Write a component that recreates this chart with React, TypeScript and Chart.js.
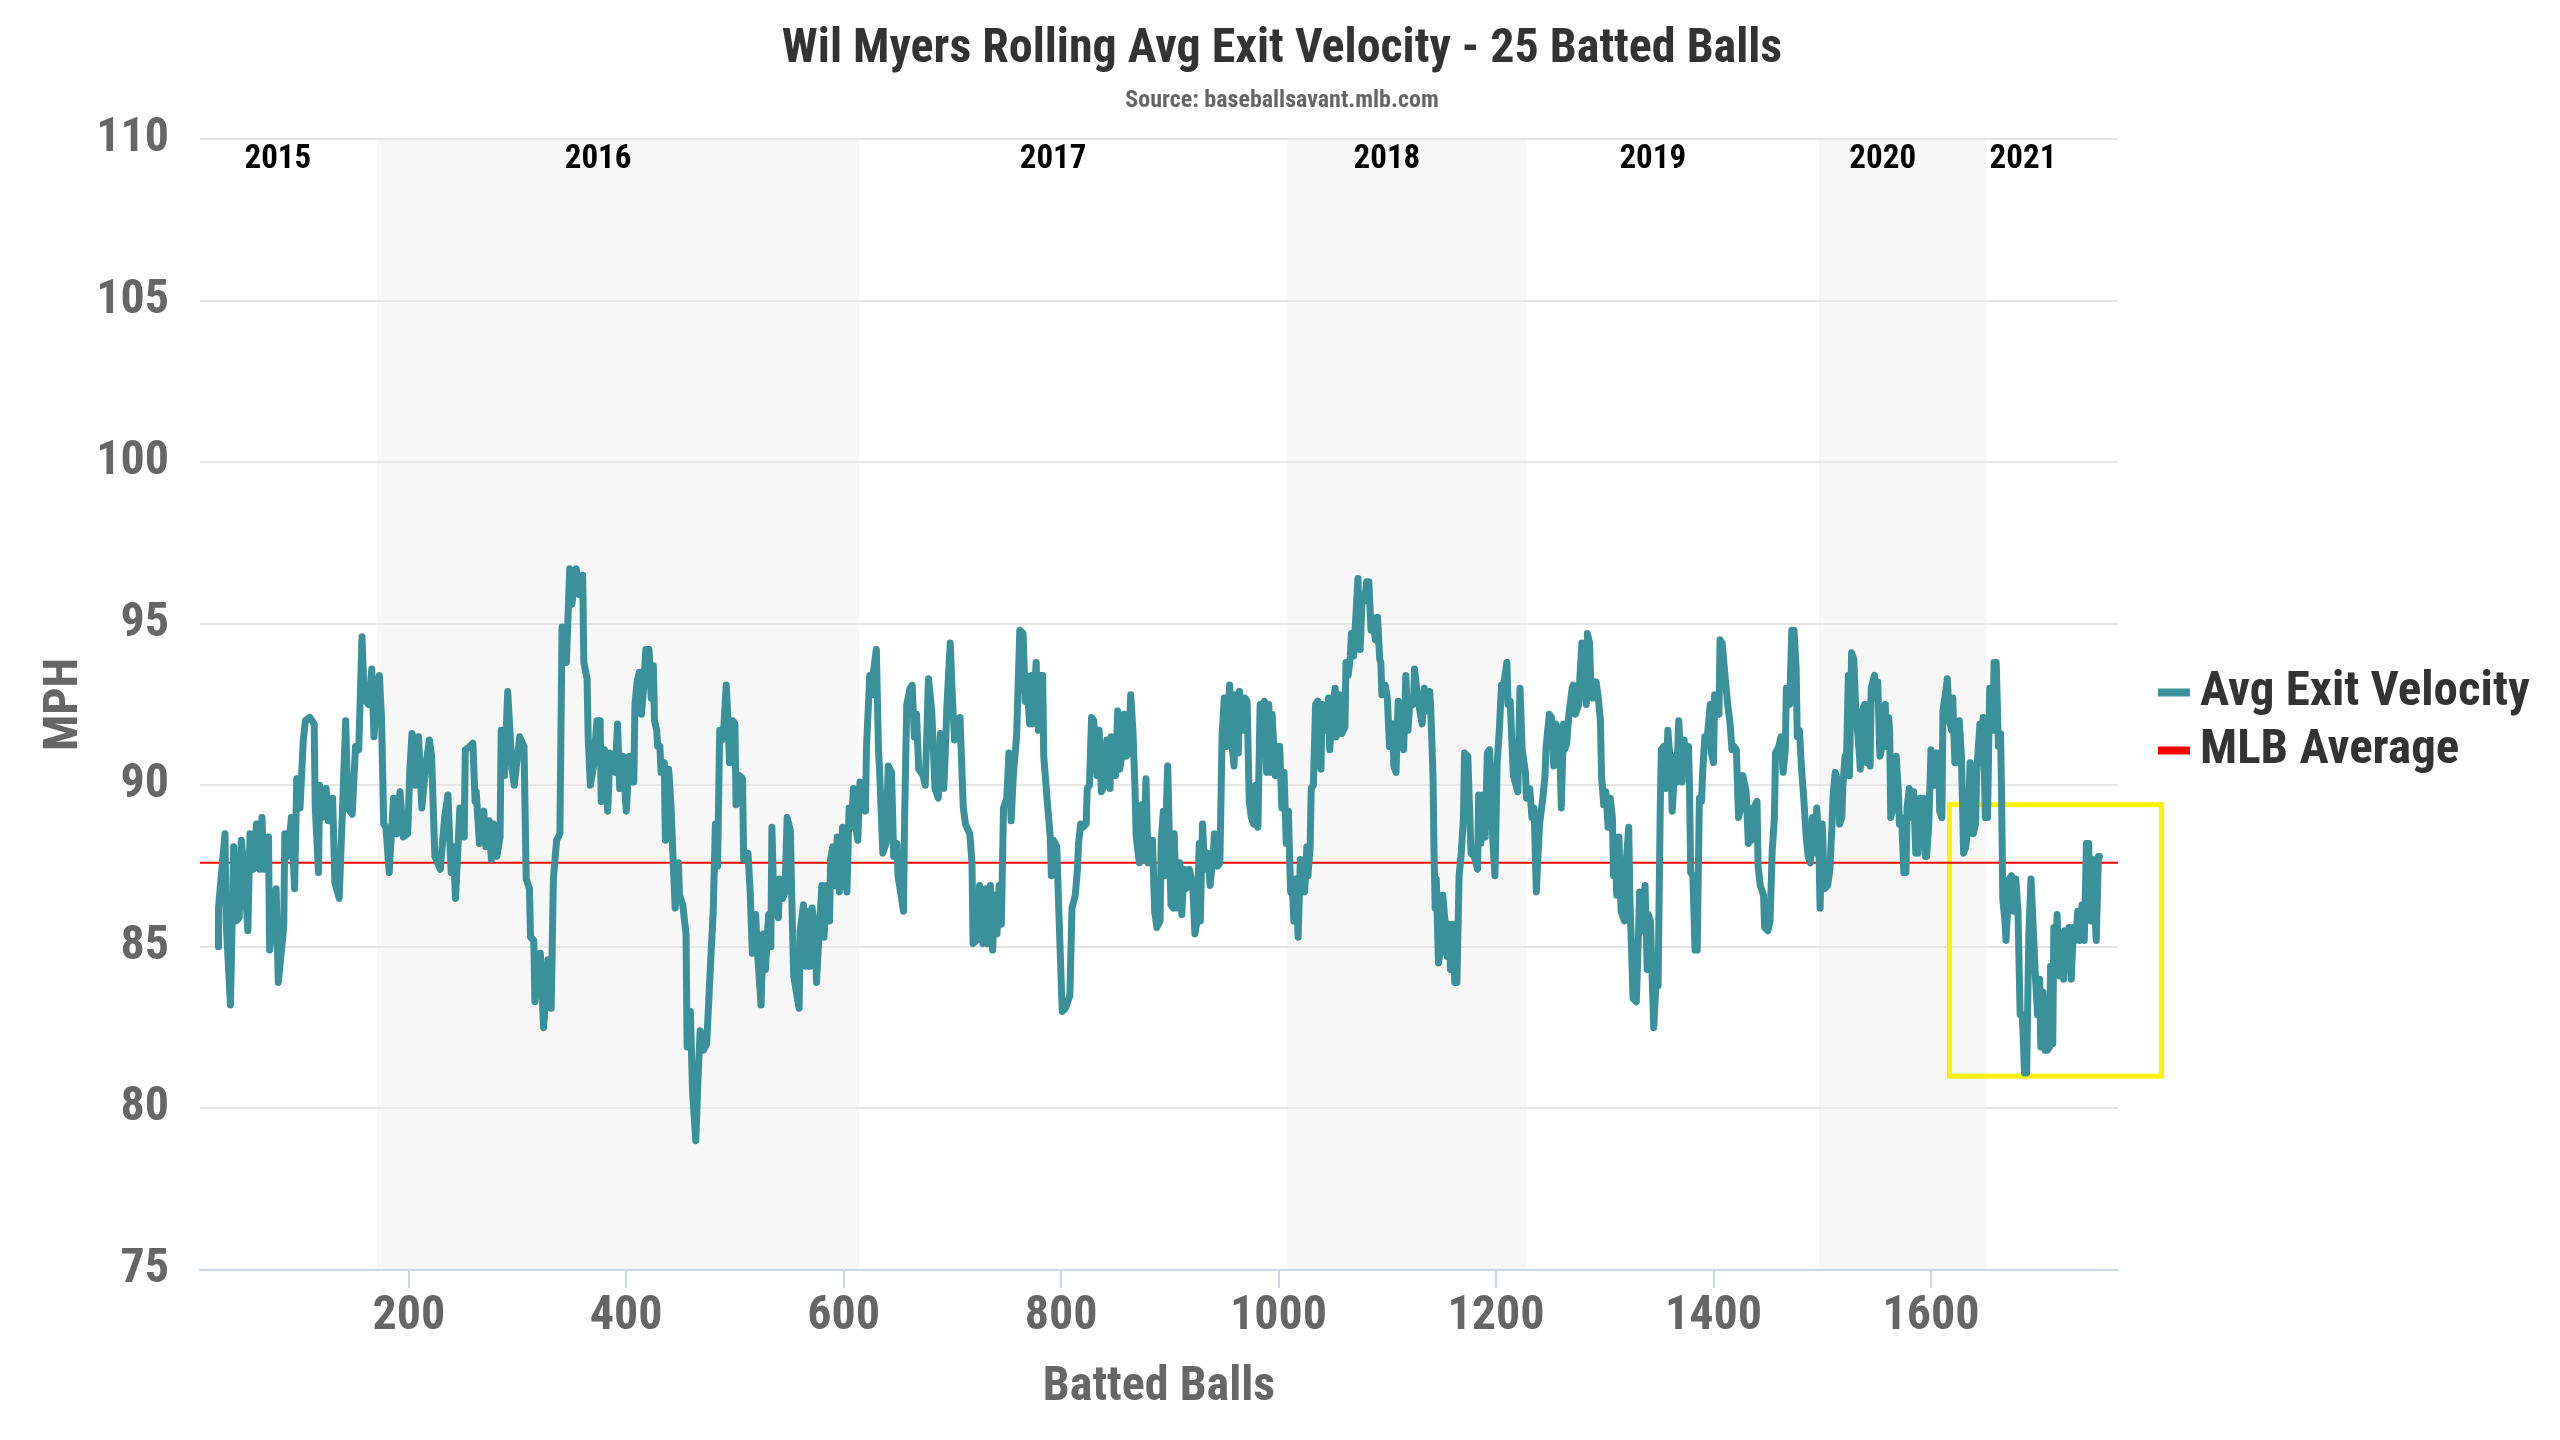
import { useEffect, useRef } from 'react'
import { Chart, registerables, type Plugin } from 'chart.js'

Chart.register(...registerables)

// the reference uses a condensed face; take the first condensed family that is really installed
function pickCondensed(): string {
  const ctx = document.createElement('canvas').getContext('2d')
  const candidates = ['Roboto Condensed', 'Liberation Sans Narrow', 'Arial Narrow', 'Noto Sans Condensed', 'Open Sans Condensed', 'Noto Sans Display Condensed']
  if (!ctx) return 'DejaVu Sans Condensed'
  const sample = 'Wil Myers Rolling 1234567890'
  ctx.font = 'bold 40px monospace'
  const base = ctx.measureText(sample).width
  for (const f of candidates) {
    ctx.font = `bold 40px '${f}', monospace`
    if (Math.abs(ctx.measureText(sample).width - base) > 1) return f
  }
  return 'DejaVu Sans Condensed'
}

const FONT = `'${pickCondensed()}', 'DejaVu Sans Condensed', sans-serif`

const TITLE = 'Wil Myers Rolling Avg Exit Velocity - 25 Batted Balls'
const SUBTITLE = 'Source: baseballsavant.mlb.com'

// rolling 25 batted-ball average: [batted ball #, mph]
const rollingExitVelo: [number, number][] = [
  [25, 85.0], [25, 86.2], [31, 88.5], [32, 85.8], [36, 83.2], [39, 88.1], [41, 85.8], [44, 85.9], [46, 88.3], [49, 87.2],
  [52, 85.5], [54, 88.5], [57, 87.4], [60, 88.8], [63, 87.4], [65, 89.0], [67, 87.4], [71, 88.4], [72, 84.9], [78, 86.8],
  [80, 83.9], [85, 85.6], [86, 88.5], [89, 87.8], [92, 89.0], [95, 86.8], [97, 90.2], [100, 89.3], [103, 91.4], [105, 92.0],
  [109, 92.1], [113, 91.9], [114, 89.3], [117, 87.3], [118, 90.0], [120, 89.0], [124, 89.9], [126, 88.9], [130, 89.6], [132, 87.0],
  [136, 86.5], [139, 89.2], [142, 92.0], [144, 89.3], [148, 89.1], [151, 91.2], [154, 91.1], [157, 94.6], [159, 92.7], [163, 92.5],
  [166, 93.6], [168, 91.5], [171, 93.0], [173, 93.4], [175, 92.0], [177, 88.8], [179, 88.7], [182, 87.3], [186, 89.6], [189, 88.5],
  [192, 89.8], [195, 88.4], [199, 88.5], [201, 90.5], [203, 91.6], [206, 90.0], [209, 91.5], [212, 89.3], [216, 90.7], [219, 91.4],
  [221, 90.9], [224, 87.8], [229, 87.4], [233, 89.0], [236, 89.7], [239, 87.3], [241, 88.1], [243, 86.5], [247, 89.3], [251, 88.4],
  [252, 91.1], [256, 91.2], [259, 91.3], [261, 89.5], [262, 89.8], [265, 88.2], [269, 89.2], [271, 88.1], [274, 88.9], [276, 87.7],
  [278, 88.8], [281, 87.8], [284, 88.4], [285, 91.7], [288, 90.3], [291, 92.9], [295, 90.5], [297, 90.0], [302, 91.5], [306, 91.2],
  [308, 87.1], [311, 86.8], [312, 85.3], [315, 85.2], [316, 83.3], [321, 84.8], [324, 82.5], [328, 84.6], [331, 83.1], [333, 87.1],
  [336, 88.3], [339, 88.5], [341, 94.9], [345, 93.8], [348, 96.7], [350, 95.6], [354, 96.7], [357, 95.9], [360, 96.5], [361, 93.8],
  [364, 93.3], [365, 91.5], [367, 90.0], [370, 90.6], [373, 92.0], [376, 92.0], [377, 89.5], [380, 91.1], [383, 89.2], [385, 91.0],
  [390, 90.4], [392, 91.9], [394, 89.9], [397, 90.9], [400, 89.2], [403, 90.9], [407, 90.1], [408, 92.5], [410, 93.2], [412, 93.5],
  [414, 92.2], [416, 93.0], [418, 94.2], [421, 94.2], [423, 92.7], [425, 93.7], [426, 92.0], [428, 91.7], [429, 91.2], [431, 91.2],
  [432, 90.4], [435, 90.7], [436, 88.3], [439, 90.5], [441, 89.5], [443, 87.8], [445, 86.2], [448, 87.6], [449, 86.6], [452, 86.3],
  [455, 85.4], [456, 81.9], [459, 83.0], [461, 80.5], [464, 79.0], [466, 80.9], [468, 82.4], [471, 81.8], [474, 82.0], [477, 84.1],
  [480, 86.1], [482, 88.8], [484, 87.5], [486, 91.7], [488, 91.4], [490, 91.9], [492, 93.1], [494, 91.7], [495, 90.7], [498, 92.0],
  [500, 91.9], [501, 89.4], [504, 90.3], [507, 90.2], [508, 87.7], [512, 87.9], [514, 86.7], [516, 84.8], [519, 86.0], [521, 84.7],
  [524, 83.2], [526, 85.4], [528, 84.3], [531, 86.0], [533, 85.0], [534, 88.7], [536, 86.0], [538, 86.8], [540, 85.9], [541, 87.1],
  [544, 86.5], [546, 86.7], [548, 89.0], [551, 88.6], [552, 86.9], [554, 84.1], [557, 83.5], [559, 83.1], [560, 85.5], [563, 86.3],
  [565, 84.4], [567, 86.1], [569, 84.4], [571, 86.2], [574, 85.2], [575, 83.9], [578, 85.8], [580, 86.9], [582, 85.3], [584, 86.9],
  [587, 85.8], [588, 87.7], [590, 88.1], [592, 86.9], [594, 88.4], [596, 86.7], [599, 88.7], [601, 87.4], [603, 86.7], [605, 89.3],
  [607, 88.7], [609, 89.9], [612, 88.5], [613, 88.3], [615, 90.1], [618, 89.9], [620, 89.2], [621, 91.2], [624, 93.4], [626, 92.8],
  [627, 93.4], [630, 94.2], [632, 91.1], [633, 90.5], [636, 87.9], [639, 88.2], [641, 90.6], [644, 90.4], [646, 87.8], [649, 88.2],
  [650, 87.2], [655, 86.1], [656, 88.9], [658, 92.5], [661, 93.0], [663, 93.1], [665, 91.5], [667, 92.2], [669, 90.5], [673, 90.3],
  [675, 90.0], [678, 93.3], [681, 92.3], [684, 89.9], [687, 89.6], [689, 91.6], [692, 89.9], [693, 90.6], [695, 92.5], [698, 94.4],
  [700, 92.7], [702, 91.4], [704, 91.5], [707, 92.1], [710, 89.3], [712, 88.8], [716, 88.5], [718, 87.6], [719, 85.1], [722, 85.2],
  [725, 86.9], [728, 85.1], [731, 86.8], [732, 85.1], [735, 86.9], [737, 84.9], [739, 86.6], [741, 85.4], [743, 86.9], [745, 85.7],
  [747, 89.3], [750, 89.6], [752, 91.0], [754, 88.9], [756, 90.3], [759, 91.5], [762, 94.8], [765, 94.7], [767, 92.6], [768, 93.4],
  [771, 91.9], [773, 93.4], [774, 91.9], [777, 93.8], [779, 91.7], [781, 93.4], [783, 93.4], [784, 90.9], [787, 89.6], [790, 88.4],
  [791, 87.2], [793, 88.3], [796, 88.1], [798, 86.0], [801, 83.0], [804, 83.1], [808, 83.5], [810, 86.2], [813, 86.6], [815, 87.4],
  [816, 88.2], [818, 88.8], [820, 88.7], [823, 88.8], [824, 89.9], [826, 90.0], [828, 92.1], [830, 92.0], [833, 90.3], [835, 91.7],
  [837, 89.8], [840, 90.0], [842, 91.4], [845, 89.9], [846, 91.5], [850, 90.3], [852, 92.3], [854, 90.5], [856, 91.0], [858, 92.2],
  [860, 90.9], [862, 91.0], [864, 92.8], [866, 91.7], [868, 89.8], [869, 88.4], [872, 87.6], [874, 89.4], [876, 87.7], [878, 90.2],
  [880, 87.6], [882, 88.3], [884, 88.3], [886, 86.1], [888, 85.6], [891, 85.8], [892, 88.3], [894, 89.2], [895, 87.2], [897, 89.5],
  [898, 90.6], [901, 86.3], [903, 86.2], [904, 88.5], [906, 86.2], [909, 87.6], [911, 86.0], [913, 87.4], [915, 86.8], [918, 87.4],
  [921, 86.9], [923, 85.4], [925, 85.8], [927, 88.2], [928, 85.8], [930, 88.8], [932, 87.4], [935, 87.9], [937, 86.9], [940, 87.9],
  [941, 88.5], [944, 87.5], [946, 87.6], [948, 91.5], [950, 92.7], [952, 91.2], [955, 93.1], [957, 91.3], [959, 90.6], [960, 92.8],
  [961, 92.2], [963, 91.0], [964, 92.9], [967, 91.7], [969, 92.7], [971, 92.6], [973, 89.5], [975, 89.0], [977, 88.8], [979, 90.0],
  [981, 88.7], [983, 92.5], [985, 92.5], [987, 92.6], [989, 90.4], [991, 92.5], [993, 90.4], [994, 92.2], [997, 90.3], [999, 91.2],
  [1001, 91.2], [1003, 89.3], [1005, 90.4], [1007, 88.2], [1009, 89.2], [1011, 86.7], [1013, 86.6], [1014, 85.8], [1016, 87.1], [1018, 85.3],
  [1020, 87.7], [1022, 86.8], [1024, 86.7], [1026, 88.1], [1027, 87.2], [1029, 88.1], [1030, 89.9], [1032, 90.0], [1034, 92.5], [1036, 92.6],
  [1039, 90.5], [1040, 92.5], [1043, 91.7], [1046, 92.7], [1047, 91.1], [1050, 92.5], [1052, 93.0], [1053, 91.5], [1056, 92.8], [1058, 91.6],
  [1061, 91.8], [1062, 93.8], [1064, 93.4], [1066, 94.0], [1067, 94.7], [1069, 94.0], [1073, 96.4], [1074, 94.5], [1075, 94.2], [1077, 95.9],
  [1079, 95.7], [1081, 96.3], [1083, 96.3], [1085, 94.8], [1086, 95.2], [1089, 94.5], [1091, 95.2], [1093, 93.9], [1094, 93.8], [1095, 92.8],
  [1098, 93.1], [1100, 92.7], [1102, 91.2], [1105, 91.9], [1106, 90.6], [1108, 90.4], [1110, 92.6], [1112, 91.5], [1115, 91.1], [1117, 93.4],
  [1119, 91.7], [1121, 92.7], [1124, 92.5], [1125, 93.6], [1128, 92.7], [1132, 91.9], [1134, 93.0], [1136, 92.3], [1139, 92.9], [1140, 92.3],
  [1142, 90.3], [1143, 87.8], [1144, 86.2], [1145, 87.1], [1147, 84.5], [1149, 84.9], [1151, 86.6], [1153, 85.8], [1155, 84.7], [1157, 85.7],
  [1158, 84.3], [1161, 85.7], [1162, 83.9], [1164, 83.9], [1166, 87.2], [1168, 87.9], [1170, 89.0], [1171, 91.0], [1174, 90.9], [1177, 87.9],
  [1180, 87.8], [1183, 87.4], [1184, 89.7], [1186, 88.2], [1188, 89.7], [1190, 88.4], [1192, 91.0], [1194, 91.1], [1197, 88.3], [1199, 87.2],
  [1201, 90.7], [1203, 91.7], [1205, 93.1], [1207, 93.1], [1210, 93.8], [1211, 92.5], [1213, 92.6], [1215, 91.0], [1216, 90.3], [1220, 89.8],
  [1222, 93.0], [1224, 91.1], [1227, 90.4], [1228, 89.6], [1231, 89.9], [1233, 89.0], [1235, 89.3], [1237, 86.7], [1240, 88.8], [1243, 89.6],
  [1245, 90.3], [1246, 91.2], [1249, 92.2], [1251, 92.1], [1253, 90.6], [1255, 91.9], [1257, 91.7], [1259, 90.6], [1260, 89.3], [1262, 91.9],
  [1263, 91.1], [1265, 91.3], [1267, 92.2], [1270, 93.0], [1271, 93.1], [1273, 92.2], [1276, 92.5], [1277, 93.3], [1279, 94.4], [1281, 93.8],
  [1283, 92.5], [1284, 94.7], [1286, 94.4], [1287, 93.3], [1289, 92.7], [1292, 93.2], [1294, 92.7], [1296, 92.0], [1297, 90.3], [1299, 89.4],
  [1301, 89.8], [1303, 88.7], [1305, 89.6], [1307, 89.0], [1308, 87.2], [1310, 87.6], [1311, 86.6], [1313, 88.4], [1315, 86.1], [1318, 85.8],
  [1319, 87.3], [1322, 88.7], [1323, 86.6], [1325, 84.5], [1326, 83.4], [1329, 83.3], [1331, 85.4], [1332, 86.7], [1335, 85.5], [1337, 86.9],
  [1339, 84.3], [1340, 86.0], [1342, 85.8], [1345, 82.5], [1347, 83.8], [1349, 83.8], [1351, 89.3], [1352, 91.1], [1354, 91.2], [1356, 89.9],
  [1358, 91.7], [1361, 90.4], [1362, 89.2], [1365, 90.9], [1366, 90.1], [1368, 92.0], [1371, 90.1], [1373, 91.4], [1375, 90.4], [1377, 91.2],
  [1378, 89.8], [1379, 87.3], [1381, 87.2], [1383, 84.9], [1385, 84.9], [1387, 89.6], [1389, 89.5], [1390, 90.4], [1392, 91.5], [1394, 91.4],
  [1397, 92.5], [1398, 91.0], [1400, 90.7], [1401, 92.8], [1403, 92.7], [1405, 92.2], [1406, 94.5], [1408, 94.4], [1410, 93.6], [1413, 92.5],
  [1415, 92.0], [1417, 91.1], [1419, 91.2], [1421, 91.1], [1423, 89.0], [1425, 89.3], [1427, 90.3], [1430, 89.8], [1432, 88.2], [1433, 89.3],
  [1435, 88.3], [1437, 89.3], [1440, 89.5], [1441, 87.5], [1443, 86.9], [1446, 86.6], [1447, 85.6], [1450, 85.5], [1452, 85.8], [1454, 88.0],
  [1456, 89.0], [1457, 91.0], [1460, 91.2], [1462, 91.5], [1464, 90.4], [1466, 91.1], [1467, 93.0], [1470, 92.5], [1472, 94.8], [1474, 94.8],
  [1476, 93.6], [1477, 91.5], [1479, 91.7], [1481, 90.5], [1483, 89.6], [1485, 88.5], [1487, 87.8], [1489, 87.6], [1491, 89.0], [1493, 87.9],
  [1495, 89.3], [1497, 87.9], [1498, 86.2], [1500, 88.8], [1502, 86.8], [1505, 86.9], [1507, 87.4], [1509, 88.8], [1510, 89.7], [1512, 90.4],
  [1515, 90.0], [1516, 88.8], [1518, 89.0], [1519, 90.0], [1521, 90.9], [1522, 90.3], [1524, 93.4], [1525, 90.3], [1527, 94.1], [1529, 93.9],
  [1531, 92.2], [1533, 91.5], [1535, 90.5], [1537, 92.3], [1539, 92.5], [1541, 90.7], [1542, 92.5], [1544, 90.6], [1545, 93.0], [1548, 93.4],
  [1550, 92.7], [1551, 93.2], [1553, 90.9], [1555, 91.2], [1558, 92.5], [1559, 91.2], [1561, 92.1], [1562, 91.7], [1563, 89.0], [1565, 89.3],
  [1568, 90.9], [1570, 89.8], [1571, 88.8], [1573, 89.0], [1575, 87.3], [1577, 87.3], [1578, 89.3], [1580, 89.9], [1582, 89.0], [1584, 89.8],
  [1586, 87.9], [1588, 87.9], [1590, 89.6], [1591, 88.3], [1593, 89.6], [1595, 87.8], [1596, 87.8], [1598, 88.8], [1600, 91.1], [1602, 90.8],
  [1603, 90.0], [1605, 91.0], [1607, 91.0], [1608, 89.2], [1610, 89.0], [1611, 92.3], [1614, 93.0], [1615, 93.3], [1617, 92.0], [1619, 91.7],
  [1620, 92.7], [1622, 90.7], [1623, 90.7], [1626, 92.0], [1628, 90.9], [1630, 87.9], [1632, 88.1], [1634, 88.8], [1636, 90.7], [1637, 89.0],
  [1639, 88.5], [1641, 88.8], [1642, 90.4], [1645, 91.9], [1646, 90.7], [1648, 92.1], [1650, 89.0], [1652, 89.0], [1654, 93.0], [1657, 91.7],
  [1658, 93.8], [1660, 93.8], [1662, 91.2], [1664, 91.6], [1665, 89.6], [1666, 86.5], [1668, 85.8], [1669, 85.2], [1672, 87.1], [1674, 87.2],
  [1676, 86.1], [1678, 87.1], [1680, 86.1], [1682, 82.9], [1684, 82.9], [1686, 81.1], [1688, 81.1], [1690, 85.4], [1692, 87.1], [1694, 85.6],
  [1696, 84.1], [1698, 82.9], [1700, 84.0], [1701, 81.9], [1703, 83.6], [1705, 81.8], [1707, 81.8], [1709, 81.9], [1710, 84.4], [1712, 82.0],
  [1713, 85.6], [1715, 84.7], [1716, 86.0], [1718, 84.1], [1720, 84.7], [1722, 84.0], [1723, 85.5], [1725, 84.3], [1727, 85.6], [1729, 84.0],
  [1731, 85.6], [1733, 85.2], [1735, 86.1], [1737, 85.2], [1739, 86.3], [1741, 85.2], [1743, 88.2], [1745, 88.2], [1747, 85.8], [1749, 87.7],
  [1750, 86.6], [1752, 85.2], [1754, 87.8], [1755, 87.8],
]

const mlbAverage = 87.6

const seasons = ['2015', '2016', '2017', '2018', '2019', '2020', '2021']
const seasonStart = [25, 171, 614, 1008, 1228, 1497, 1651]
const seasonEnd = [171, 614, 1008, 1228, 1497, 1651, 1755]
const shadedSeasons = ['2016', '2018', '2020']

const xMin = 8
const xMax = 1772
const xTickValues = [200, 400, 600, 800, 1000, 1200, 1400, 1600]
const yMin = 75
const yMax = 110

// the 2021 slump that is boxed in yellow
const highlightBalls = [1617, 1812]
const highlightMph = [81.0, 89.4]

// title and source line, centred on the whole canvas like the original
const titleBlock: Plugin<'line'> = {
  id: 'titleBlock',
  afterDraw(chart) {
    const { ctx } = chart
    const cx = chart.width / 2 + 2
    ctx.save()
    ctx.textAlign = 'center'
    ctx.textBaseline = 'middle'
    ctx.fillStyle = '#333333'
    ctx.font = `bold 48px ${FONT}`
    ctx.fillText(TITLE, cx, 50)
    ctx.fillStyle = '#666666'
    ctx.font = `bold 24px ${FONT}`
    ctx.fillText(SUBTITLE, cx, 101)
    ctx.restore()
  },
}

const seasonBands: Plugin<'line'> = {
  id: 'seasonBands',
  beforeDraw(chart) {
    const { ctx, chartArea: a, scales } = chart
    const x = scales.x
    ctx.save()
    ctx.fillStyle = '#f7f7f7'
    seasons.forEach((s, i) => {
      if (!shadedSeasons.includes(s)) return
      const x0 = x.getPixelForValue(seasonStart[i])
      const x1 = x.getPixelForValue(seasonEnd[i])
      ctx.fillRect(x0, a.top, x1 - x0, a.bottom - a.top)
    })
    ctx.restore()
  },
}

const seasonLabels: Plugin<'line'> = {
  id: 'seasonLabels',
  beforeDatasetsDraw(chart) {
    const { ctx, chartArea: a, scales } = chart
    const x = scales.x
    const y = scales.y
    ctx.save()
    ctx.font = `bold 33px ${FONT}`
    ctx.fillStyle = '#000000'
    ctx.textAlign = 'center'
    ctx.textBaseline = 'middle'
    seasons.forEach((s, i) => {
      const mid = x.getPixelForValue((seasonStart[i] + seasonEnd[i]) / 2)
      ctx.fillText(s, mid - 20, a.top + 21)
    })
    // yellow box round the 2021 drop, drawn under the line
    const bx0 = x.getPixelForValue(highlightBalls[0])
    const bx1 = x.getPixelForValue(highlightBalls[1])
    const by0 = y.getPixelForValue(highlightMph[1])
    const by1 = y.getPixelForValue(highlightMph[0])
    ctx.strokeStyle = '#fff200'
    ctx.lineWidth = 5
    ctx.strokeRect(bx0, by0, bx1 - bx0, by1 - by0)
    ctx.restore()
  },
}

const sideLegend: Plugin<'line'> = {
  id: 'sideLegend',
  afterDraw(chart) {
    const { ctx, chartArea: a } = chart
    const mid = (a.top + a.bottom) / 2 + 17
    const rowGap = 58
    const x0 = a.right + 40
    ctx.save()
    ctx.font = `bold 49px ${FONT}`
    ctx.textBaseline = 'middle'
    chart.data.datasets.forEach((ds, i) => {
      const y = mid + (i - 0.5) * rowGap
      ctx.strokeStyle = ds.borderColor as string
      ctx.lineWidth = 8
      ctx.beginPath()
      ctx.moveTo(x0, y)
      ctx.lineTo(x0 + 32, y)
      ctx.stroke()
      ctx.fillStyle = '#333333'
      ctx.fillText(ds.label ?? '', x0 + 42, y)
    })
    ctx.restore()
  },
}

export default function App() {
  const canvasRef = useRef<HTMLCanvasElement>(null)

  useEffect(() => {
    document.body.style.margin = '0'
    if (!canvasRef.current) return
    const chart = new Chart(canvasRef.current, {
      type: 'line',
      data: {
        datasets: [
          {
            label: 'Avg Exit Velocity',
            data: rollingExitVelo.map(([x, y]) => ({ x, y })),
            borderColor: '#3a9199',
            borderWidth: 7,
            pointRadius: 0,
            tension: 0,
            borderJoinStyle: 'round',
            borderCapStyle: 'round',
          },
          {
            label: 'MLB Average',
            data: [
              { x: xMin, y: mlbAverage },
              { x: xMax, y: mlbAverage },
            ],
            borderColor: '#ff0000',
            borderWidth: 2,
            pointRadius: 0,
          },
        ],
      },
      options: {
        responsive: false,
        devicePixelRatio: 1,
        animation: false,
        layout: { padding: { left: 20, right: 442, top: 139, bottom: 0 } },
        plugins: {
          legend: { display: false },
          tooltip: { enabled: false },
          title: { display: false },
        },
        scales: {
          x: {
            type: 'linear',
            min: xMin,
            max: xMax,
            afterBuildTicks: (s) => {
              s.ticks = xTickValues.map((value) => ({ value }))
            },
            ticks: {
              color: '#666666',
              font: { family: FONT, size: 48, weight: 'bold' },
              padding: 0,
              maxRotation: 0,
              autoSkip: false,
              callback: (v) => String(v),
            },
            grid: { drawOnChartArea: false, color: '#ccd6eb', lineWidth: 2, tickLength: 18 },
            border: { color: '#ccd6eb', width: 2 },
            title: {
              display: true,
              text: 'Batted Balls',
              color: '#666666',
              font: { family: FONT, size: 48, weight: 'bold' },
              padding: { top: 0, bottom: 23 },
            },
            afterFit: (s) => {
              s.height = 170
            },
          },
          y: {
            type: 'linear',
            min: yMin,
            max: yMax,
            ticks: {
              stepSize: 5,
              color: '#666666',
              font: { family: FONT, size: 48, weight: 'bold' },
              padding: 31,
            },
            grid: {
              color: (c) => (c.tick && c.tick.value === yMin ? 'rgba(0,0,0,0)' : '#e6e6e6'),
              lineWidth: 2,
              drawTicks: false,
            },
            border: { display: false },
            title: {
              display: true,
              text: 'MPH',
              color: '#666666',
              font: { family: FONT, size: 48, weight: 'bold' },
              padding: { top: 16, bottom: 0 },
            },
            afterFit: (s) => {
              s.width = 180
            },
          },
        },
      },
      plugins: [seasonBands, seasonLabels, titleBlock, sideLegend],
    })
    return () => chart.destroy()
  }, [])

  return (
    <div style={{ width: 2560, height: 1440, background: '#ffffff' }}>
      <canvas ref={canvasRef} width={2560} height={1440} style={{ display: 'block' }} />
    </div>
  )
}
